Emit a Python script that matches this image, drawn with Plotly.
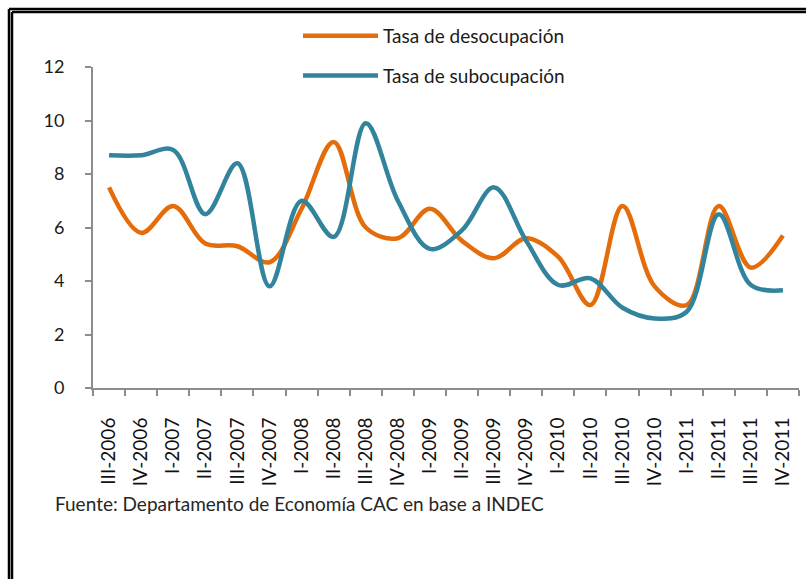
import plotly.graph_objects as go

categories = ["III-2006", "IV-2006", "I-2007", "II-2007", "III-2007", "IV-2007",
              "I-2008", "II-2008", "III-2008", "IV-2008", "I-2009", "II-2009",
              "III-2009", "IV-2009", "I-2010", "II-2010", "III-2010", "IV-2010",
              "I-2011", "II-2011", "III-2011", "IV-2011"]

desocupacion = [7.5, 5.8, 6.8, 5.4, 5.3, 4.7, 6.7, 9.2, 6.0, 5.6, 6.7, 5.5,
                4.85, 5.6, 4.9, 3.1, 6.8, 3.8, 3.1, 6.8, 4.5, 5.7]

subocupacion = [8.7, 8.7, 8.9, 6.5, 8.4, 3.8, 7.0, 5.65, 9.9, 7.0, 5.2, 5.9,
                7.5, 5.5, 3.85, 4.1, 3.0, 2.6, 2.85, 6.5, 3.85, 3.65]

y_ticks = [0, 2, 4, 6, 8, 10, 12]

W, H = 806, 579
L, R, T, B = 93, 7, 67, 191
PW, PH = W - L - R, H - T - B

def px(x):
    return (x - L) / PW

def py(y):
    return (H - B - y) / PH

ORANGE = "#E46C0A"
TEAL = "#31849B"
FONT = "Lato"

fig = go.Figure()
fig.add_trace(go.Scatter(x=categories, y=desocupacion, mode="lines",
                         name="Tasa de desocupación", legendgroup="a",
                         line=dict(color=ORANGE, width=4.5, shape="spline", smoothing=1.0)))
fig.add_trace(go.Scatter(x=categories, y=subocupacion, mode="lines",
                         name="Tasa de subocupación", legendgroup="b",
                         line=dict(color=TEAL, width=4.5, shape="spline", smoothing=1.0)))

fig.update_layout(
    width=W, height=H,
    margin=dict(l=L, r=R, t=T, b=B, pad=0),
    paper_bgcolor="white", plot_bgcolor="white",
    font=dict(family=FONT, size=19, color="#1a1a1a"),
    showlegend=True,
    legend=dict(x=px(298), y=py(17), xanchor="left", yanchor="top",
                bgcolor="rgba(0,0,0,0)", font=dict(family=FONT, size=19, color="#1a1a1a"),
                itemwidth=75, tracegroupgap=12),
    xaxis=dict(type="category", range=[-0.5, len(categories) - 0.5],
               showline=True, linecolor="#8c8c8c", linewidth=2,
               ticks="outside", tickson="boundaries", ticklen=6, tickwidth=2, tickcolor="#8c8c8c",
               tickangle=-90, showgrid=False, zeroline=False,
               tickfont=dict(family=FONT, size=19, color="#111111"),
               ticklabelstandoff=20),
    yaxis=dict(range=[0, 12], tickvals=y_ticks, ticktext=[str(v) for v in y_ticks],
               showline=True, linecolor="#8c8c8c", linewidth=2,
               ticks="outside", ticklen=6, tickwidth=2, tickcolor="#8c8c8c",
               showgrid=False, zeroline=False,
               tickfont=dict(family=FONT, size=18, color="#1a1a1a"),
               ticklabelstandoff=17),
)

fig.add_annotation(x=px(53), y=py(503), xref="paper", yref="paper",
                   xanchor="left", yanchor="middle", showarrow=False,
                   text="Fuente: Departamento de Economía CAC en base a INDEC",
                   font=dict(family=FONT, size=19, color="#262626"))

# double frame (top and left edges visible)
for off in (9, 12):
    fig.add_shape(type="line", xref="paper", yref="paper",
                  x0=px(off), x1=px(W + 5), y0=py(off), y1=py(off),
                  line=dict(color="black", width=2.5))
    fig.add_shape(type="line", xref="paper", yref="paper",
                  x0=px(off), x1=px(off), y0=py(off), y1=py(H + 5),
                  line=dict(color="black", width=2.5))

fig.write_html("out.html", config={"displayModeBar": False},
               post_script="document.body.style.margin='0';")
